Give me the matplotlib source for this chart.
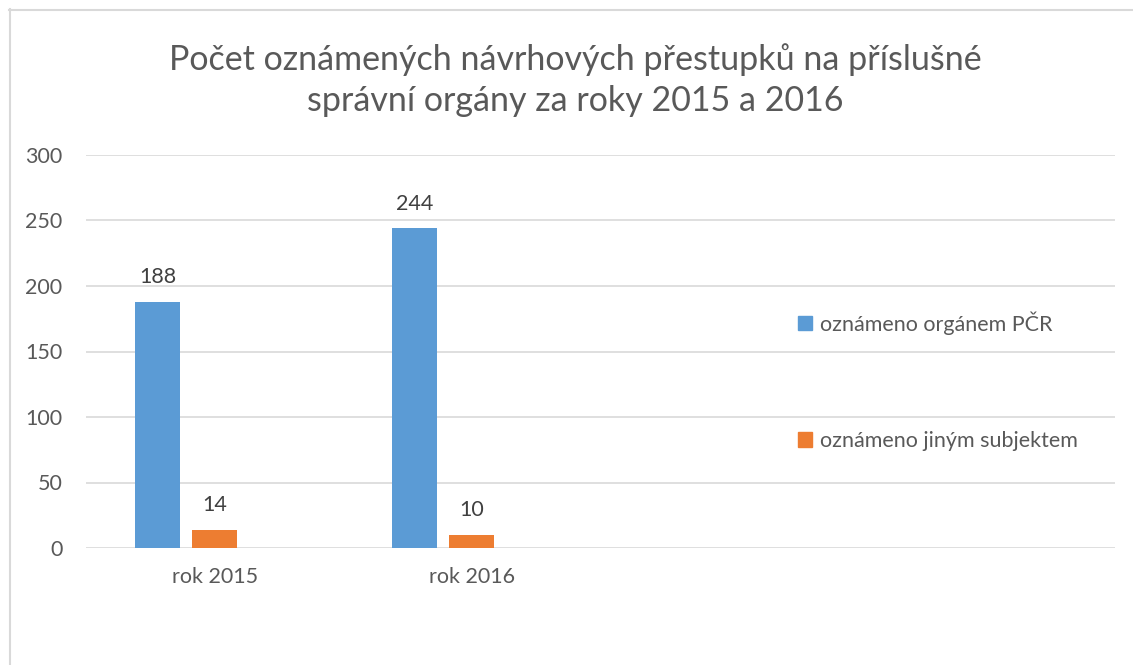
import matplotlib
matplotlib.use("Agg")
import matplotlib.pyplot as plt
from matplotlib.lines import Line2D
from matplotlib.patches import Patch

# data
categories = ["rok 2015", "rok 2016"]
series_names = ["oznámeno orgánem PČR", "oznámeno jiným subjektem"]
policie = [188, 244]
jiny = [14, 10]

title = "Počet oznámených návrhových přestupků na příslušné\nsprávní orgány za roky 2015 a 2016"

blue = "#5B9BD5"
orange = "#ED7D31"
text_col = "#595959"
grid_col = "#D9D9D9"

plt.rcParams["font.family"] = ["Lato", "DejaVu Sans"]

fig = plt.figure(figsize=(11.33, 6.65), dpi=100)
ax = fig.add_axes([86 / 1133, 1 - 548 / 665, (1115 - 86) / 1133, (548 - 155) / 665])

# chart frame (light gray border, only top/left visible)
fig.add_artist(Line2D([9 / 1133, 1.0], [1 - 9.5 / 665] * 2, color="#D9D9D9", lw=1.5, transform=fig.transFigure))
fig.add_artist(Line2D([9.5 / 1133] * 2, [0.0, 1 - 9 / 665], color="#D9D9D9", lw=1.5, transform=fig.transFigure))

x = list(range(len(categories)))
w = 0.175
off = 0.222
b1 = ax.bar([i - off for i in x], policie, width=w, color=blue, zorder=3)
b2 = ax.bar(x, jiny, width=w, color=orange, zorder=3)

for bars, vals in ((b1, policie), (b2, jiny)):
    for r, v in zip(bars, vals):
        ax.text(r.get_x() + r.get_width() / 2, v + 11, str(v), ha="center", va="bottom",
                fontsize=15.5, color="#404040")

ax.set_xlim(-0.5, 3.5)
ax.set_ylim(0, 300)
ax.set_yticks(range(0, 301, 50))
ax.set_xticks(x)
ax.set_xticklabels(categories)
ax.tick_params(axis="both", length=0, labelsize=15.5, labelcolor=text_col)
ax.tick_params(axis="y", pad=17)
ax.tick_params(axis="x", pad=14)
ax.grid(axis="y", color=grid_col, lw=1.2, zorder=0)
for s in ax.spines.values():
    s.set_visible(False)

fig.text(0.508, 1 - 80 / 665, title, ha="center", va="center", fontsize=24.5,
         color=text_col, linespacing=1.35)

handles = [Patch(color=blue), Patch(color=orange)]
fig.legend(handles, series_names, loc="upper left", bbox_to_anchor=(779 / 1133, 1 - 292 / 665),
           frameon=False, fontsize=15.5, labelcolor=text_col, handlelength=0.65, handleheight=0.65,
           handletextpad=0.35, labelspacing=4.46)

fig.savefig("out.png", dpi=100)
